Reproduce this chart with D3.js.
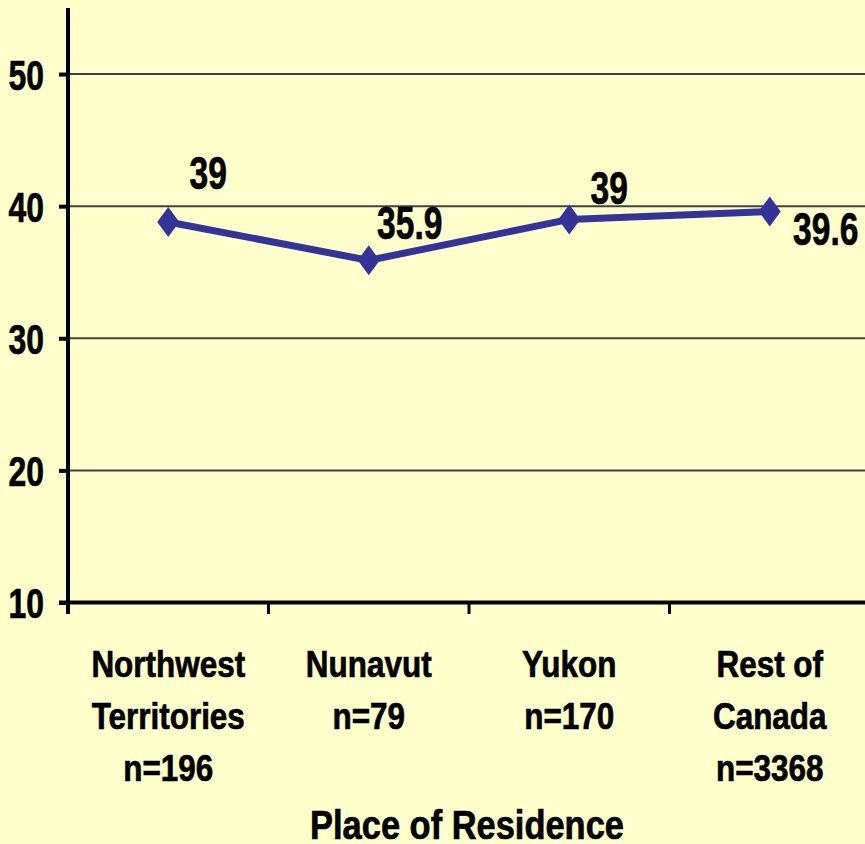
<!DOCTYPE html>
<html lang="en">
<head>
<meta charset="utf-8">
<title>Place of Residence</title>
<script src="https://cdn.jsdelivr.net/npm/d3@7"></script>
<style>
  html, body { margin: 0; padding: 0; background: #ffffcc; }
  svg { display: block; }
  text { font-family: "Liberation Sans Narrow", "Arial Narrow", "Liberation Sans", Arial, sans-serif; font-weight: bold; fill: #000; stroke: #000; stroke-width: 0.7px; }
  .grid line { stroke: #404040; stroke-width: 2px; }
</style>
</head>
<body>
<div id="chart"></div>
<script>
// data
var categories = ["Northwest Territories", "Nunavut", "Yukon", "Rest of Canada"];
var catLines = [["Northwest", "Territories", "n=196"], ["Nunavut", "n=79"], ["Yukon", "n=170"], ["Rest of", "Canada", "n=3368"]];
var values = [38.8, 35.9, 39.0, 39.6];
var valueLabels = ["39", "35.9", "39", "39.6"];
var yTicks = [10, 20, 30, 40, 50];
var xTitle = "Place of Residence";

// layout
var width = 865, height = 844;
var margin = {top: 8, left: 68};
var labelOffsets = [[40, -33], [41, -21], [40, -15], [56, 34]];

// no narrow font installed, so squeeze the text horizontally
function squeeze(sx) {
  return function(xf, yf) {
    return function(d, i) {
      var xv = typeof xf === "function" ? xf(d, i) : xf;
      var yv = typeof yf === "function" ? yf(d, i) : yf;
      return "translate(" + xv + "," + yv + ") scale(" + sx + ",1)";
    };
  };
}

var svg = d3.select("#chart").append("svg")
    .attr("width", width)
    .attr("height", height);

svg.append("rect").attr("width", width).attr("height", height).attr("fill", "#ffffcc");

var x = d3.scaleBand()
    .domain(categories)
    .range([margin.left, margin.left + 4 * 200.5]);

var y = d3.scaleLinear()
    .domain([10, 55])
    .range([602.5, margin.top]);

function cx(i) { return x(categories[i]) + x.bandwidth() / 2; }

// gridlines
svg.append("g").attr("class", "grid")
  .selectAll("line")
  .data(yTicks.filter(function(d) { return d > 10; }))
  .enter().append("line")
    .attr("x1", margin.left)
    .attr("x2", width)
    .attr("y1", function(d) { return y(d); })
    .attr("y2", function(d) { return y(d); });

// y axis
var yAxis = svg.append("g")
    .attr("transform", "translate(" + margin.left + ",0)")
    .call(d3.axisLeft(y).tickValues(yTicks).tickSize(9).tickFormat(d3.format("d")));
yAxis.select(".domain").remove();
yAxis.selectAll(".tick line").attr("stroke", "#000").attr("stroke-width", 4);
yAxis.selectAll(".tick text").remove();
yAxis.selectAll(".tick").append("text")
    .attr("transform", squeeze(0.76)(-24, 15))
    .attr("text-anchor", "end")
    .style("font-size", "42px")
    .text(function(d) { return d; });
svg.append("line")
    .attr("x1", margin.left).attr("x2", margin.left)
    .attr("y1", margin.top).attr("y2", 614)
    .attr("stroke", "#000").attr("stroke-width", 4);

// x axis
svg.append("line")
    .attr("x1", margin.left - 9).attr("x2", width)
    .attr("y1", y(10)).attr("y2", y(10))
    .attr("stroke", "#000").attr("stroke-width", 4);
svg.append("g").selectAll("line")
  .data(categories.slice(1))
  .enter().append("line")
    .attr("x1", function(d) { return x(d); })
    .attr("x2", function(d) { return x(d); })
    .attr("y1", y(10)).attr("y2", 614)
    .attr("stroke", "#000").attr("stroke-width", 3);

// category labels
var cat = svg.append("g").selectAll("text")
  .data(categories)
  .enter().append("text")
    .attr("text-anchor", "middle")
    .attr("transform", squeeze(0.85)(function(d, i) { return cx(i); }, 677))
    .style("font-size", "37px");
cat.selectAll("tspan")
  .data(function(d, i) { return catLines[i]; })
  .enter().append("tspan")
    .attr("x", 0)
    .attr("dy", function(d, i) { return i === 0 ? 0 : 52; })
    .text(function(d) { return d; });

svg.append("text")
    .attr("text-anchor", "middle")
    .attr("transform", squeeze(0.84)(x(categories[0]) + 2 * x.bandwidth() - 2, 839))
    .style("font-size", "41px")
    .text(xTitle);

// line
var line = d3.line()
    .x(function(d, i) { return cx(i); })
    .y(function(d) { return y(d); });

svg.append("path")
    .datum(values)
    .attr("d", line)
    .attr("fill", "none")
    .attr("stroke", "#333399")
    .attr("stroke-width", 7);

svg.append("g").selectAll("path")
  .data(values)
  .enter().append("path")
    .attr("d", "M0,-15L11,0L0,15L-11,0Z")
    .attr("fill", "#333399")
    .attr("transform", function(d, i) {
      return "translate(" + cx(i) + "," + y(d) + ")";
    });

// value labels
svg.append("g").selectAll("text")
  .data(values)
  .enter().append("text")
    .attr("text-anchor", "middle")
    .attr("transform", squeeze(0.73)(
      function(d, i) { return cx(i) + labelOffsets[i][0]; },
      function(d, i) { return y(d) + labelOffsets[i][1]; }))
    .style("font-size", "46px")
    .text(function(d, i) { return valueLabels[i]; });
</script>
</body>
</html>
